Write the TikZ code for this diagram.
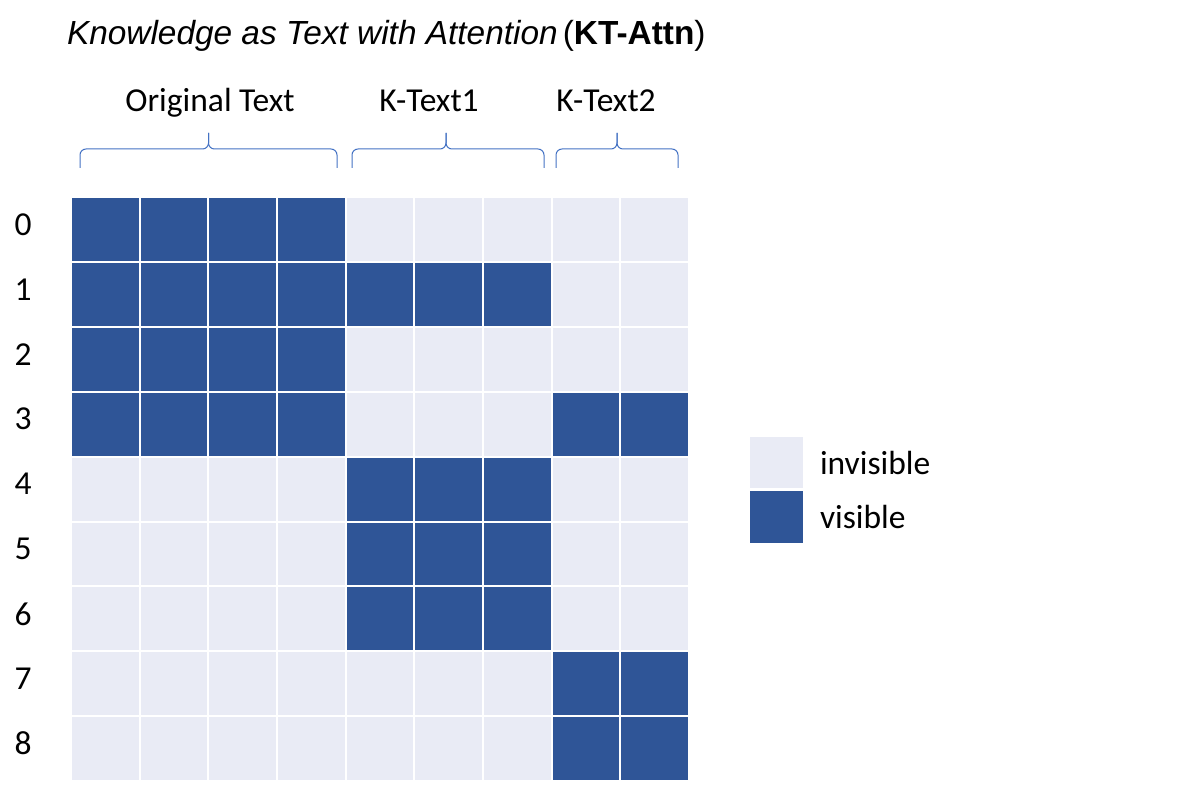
\documentclass[tikz,border=0pt]{standalone}
\usepackage{fontspec}
\setmainfont{Carlito}
\newfontfamily\titlefont{Liberation Sans}
\definecolor{vis}{HTML}{2F5597}
\definecolor{invc}{HTML}{E9EBF5}
\definecolor{brc}{HTML}{4472C4}
\begin{document}
\begin{tikzpicture}[x=1pt,y=-1pt,
  every node/.style={inner sep=0pt,outer sep=0pt},
  lab/.style={font=\fontsize{33.5}{40}\selectfont},
  cell/.style={rectangle,minimum width=68.67pt,minimum height=64.9pt,draw=white,line width=2pt},
  bracepath/.style={draw=brc,line width=1pt,rounded corners=6pt},
  legbox/.style={rectangle,minimum width=55pt,minimum height=53pt,draw=white,line width=1.5pt}]
\useasboundingbox (0,0) rectangle (1177,786);
\fill[white] (0,0) rectangle (1177,786);
% title
\node[anchor=base west,font=\titlefont\fontsize{33.4}{40}\selectfont] (title) at (67,45)
  {{\itshape Knowledge as Text with Attention}\hspace{0.15em}({\bfseries KT-Attn})};
% group labels
\node[lab,anchor=base] (g1) at (210,112) {Original Text};
\node[lab,anchor=base] (g2) at (429,112) {K-Text1};
\node[lab,anchor=base] (g3) at (606,112) {K-Text2};
% braces
\coordinate (b1) at (208.5,133);
\coordinate (b2) at (446,133);
\coordinate (b3) at (617,133);
\draw[bracepath] (80,168) -- (80,149) -- (b1 |- 0,149) -- (b1);
\draw[bracepath] (b1) -- (b1 |- 0,149) -- (337,149) -- (337,168);
\draw[bracepath] (352,168) -- (352,149) -- (b2 |- 0,149) -- (b2);
\draw[bracepath] (b2) -- (b2 |- 0,149) -- (544,149) -- (544,168);
\draw[bracepath] (556,168) -- (556,149) -- (b3 |- 0,149) -- (b3);
\draw[bracepath] (b3) -- (b3 |- 0,149) -- (678,149) -- (678,168);
% cells
\foreach \r in {0,...,8}{
  \foreach \c in {0,...,8}{
    \node[cell,fill=invc] (c\r-\c) at ({71+(\c+0.5)*68.67},{197+(\r+0.5)*64.9}) {};
  }
  \node[lab] (row\r) at ({23},{197+(\r+0.5)*64.9-5}) {\r};
}
\foreach \r/\cs in {0/{0,1,2,3},1/{0,1,2,3,4,5,6},2/{0,1,2,3},3/{0,1,2,3,7,8},4/{4,5,6},5/{4,5,6},6/{4,5,6},7/{7,8},8/{7,8}}{
  \foreach \c in \cs {
    \node[cell,fill=vis] (v\r-\c) at (c\r-\c) {};
  }
}
% legend
\node[legbox,fill=invc] (linv) at (776.5,462.5) {};
\node[legbox,fill=vis] (lvis) at (776.5,517) {};
\node[lab,anchor=west] (tinv) at (820,463) {invisible};
\node[lab,anchor=west] (tvis) at (820,517) {visible};
\end{tikzpicture}
\end{document}
